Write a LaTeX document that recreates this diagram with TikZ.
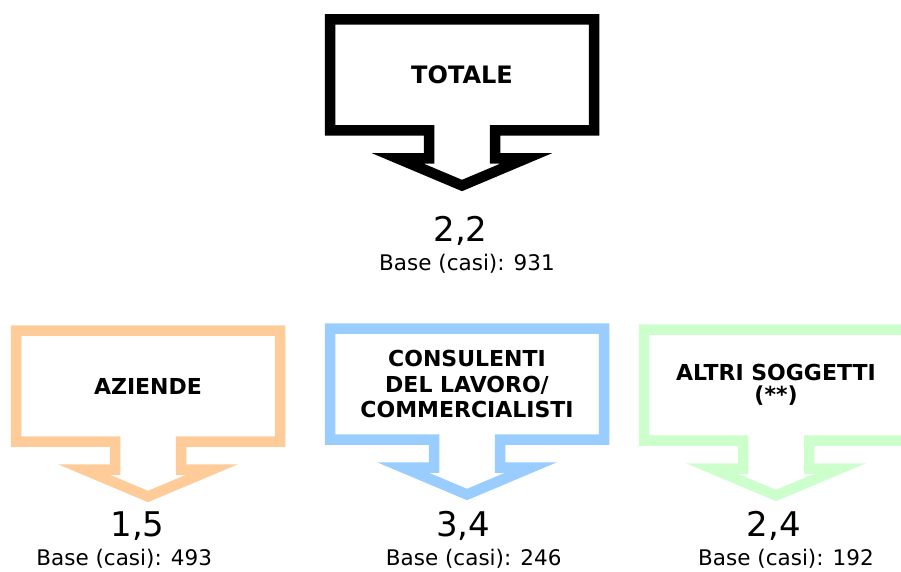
\documentclass[tikz,border=0pt]{standalone}
\usepackage{fontspec}
\setmainfont{DejaVu Sans}
\usepackage{xcolor}
\usetikzlibrary{positioning}

\definecolor{aziende}{HTML}{FFCC99}
\definecolor{consul}{HTML}{99CCFF}
\definecolor{altri}{HTML}{CCFFCC}

\begin{document}
\begin{tikzpicture}[
  x=1pt, y=-1pt,
  boxlabel/.style={align=center, font=\fontsize{22}{25.5}\selectfont\bfseries, inner sep=0pt},
  num/.style={anchor=base, font=\fontsize{34}{40}\selectfont, inner sep=0pt},
  casi/.style={anchor=base, font=\fontsize{21.5}{25}\selectfont, inner sep=0pt},
  freccia/.style={line width=10.5pt, line join=miter, miter limit=10}
]
  \clip (0,0) rectangle (901,572);

  % box labels
  \node[boxlabel, font=\fontsize{24}{28}\selectfont\bfseries] (tot) at (462,75) {TOTALE};
  \node[boxlabel] (azi) at (148,386) {AZIENDE};
  \node[boxlabel] (con) at (467,384) {CONSULENTI\\DEL LAVORO/\\COMMERCIALISTI};
  \node[boxlabel] (alt) at (776,385) {ALTRI SOGGETTI\\[-3.5pt](**)};

  % down-arrow boxes
  \foreach \n/\c/\w in {tot/black/132, azi/aziende/132, con/consul/137, alt/altri/132}
    \draw[freccia, \c, shift={(\n)}] (-\w,-55.5) -- (\w,-55.5) -- (\w,55.5) -- (33,55.5)
      -- (33,83.5) -- (64,83.5) -- (0,110.5) -- (-64,83.5) -- (-33,83.5) -- (-33,55.5)
      -- (-\w,55.5) -- cycle;

  % values
  \node[num] (v0) at (460.5,241) {2,2};
  \node[casi] (b0) at (467,270) {Base (casi): 931};
  \node[num] (v1) at (137.5,536.7) {1,5};
  \node[casi] (b1) at (124.2,565) {Base (casi): 493};
  \node[num] (v2) at (463.3,536.7) {3,4};
  \node[casi] (b2) at (473.7,565) {Base (casi): 246};
  \node[num] (v3) at (773.8,536.7) {2,4};
  \node[casi] (b3) at (786,565) {Base (casi): 192};
\end{tikzpicture}
\end{document}
